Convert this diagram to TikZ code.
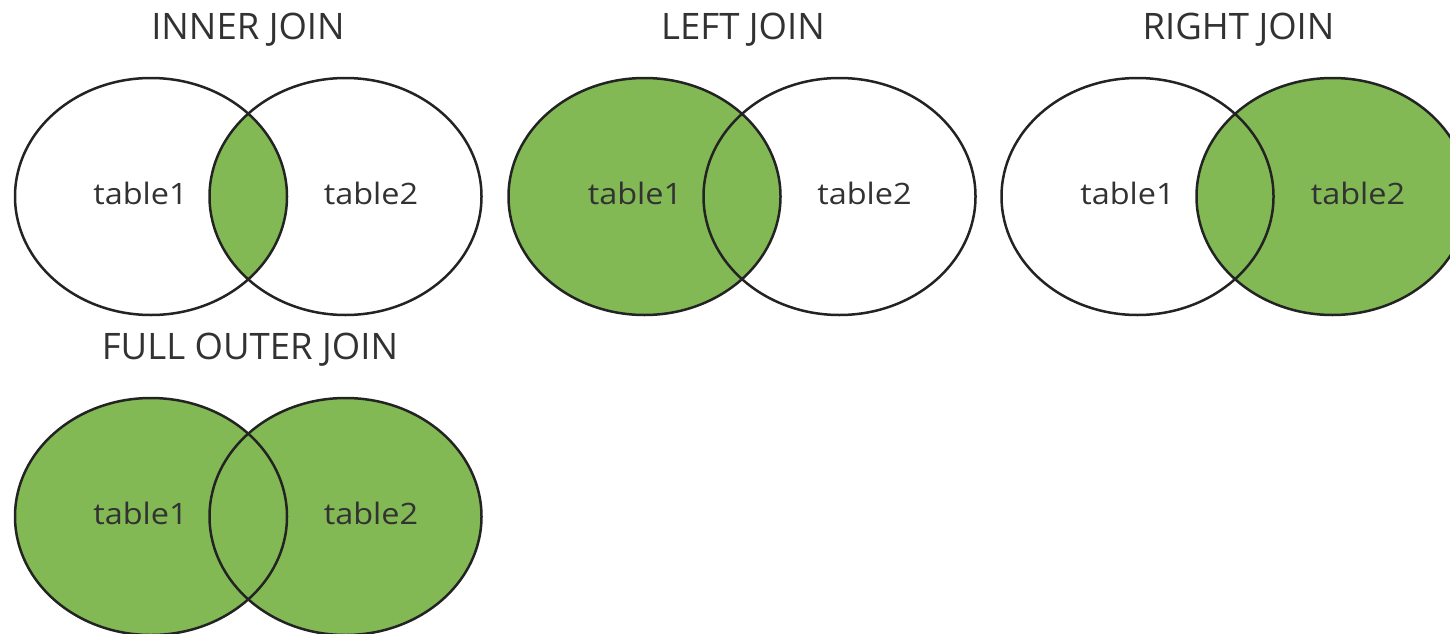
\documentclass[tikz,border=0pt]{standalone}
\usepackage{fontspec}
\setmainfont{Open Sans}
\definecolor{joingreen}{RGB}{130,185,85}
\definecolor{edgecol}{RGB}{35,35,35}
\definecolor{txtcol}{RGB}{50,50,50}
\begin{document}
\begin{tikzpicture}[x=1pt,y=-1pt,
  outline/.style={draw=edgecol,line width=2.5pt},
  shade/.style={fill=joingreen},
  title/.style={font=\fontsize{36.5}{36.5}\selectfont,text=txtcol,anchor=base,inner sep=0pt},
  lab/.style={font=\fontsize{29.5}{29.5}\selectfont,text=txtcol,anchor=base,inner sep=0pt,xscale=1.1},
  er/.style={x radius=136,y radius=118.5}]
\useasboundingbox (0,0) rectangle (1450,634);
\clip (0,0) rectangle (1450,634);
% INNER JOIN
\begin{scope}
  \clip (151,196.5) ellipse [er];
  \fill[shade] (345.5,196.5) ellipse [er];
\end{scope}
\draw[outline] (151,196.5) ellipse [er];
\draw[outline] (345.5,196.5) ellipse [er];
\node[title] (tInner) at (248,40) {INNER JOIN};
\node[lab] (i1) at (140.5,204) {table1};
\node[lab] (i2) at (371,204) {table2};
% LEFT JOIN
\fill[shade] (644.5,196.5) ellipse [er];
\draw[outline] (644.5,196.5) ellipse [er];
\draw[outline] (839.5,196.5) ellipse [er];
\node[title] (tLeft) at (743,40) {LEFT JOIN};
\node[lab] (l1) at (635,204) {table1};
\node[lab] (l2) at (864.5,204) {table2};
% RIGHT JOIN
\fill[shade] (1332.5,196.5) ellipse [er];
\draw[outline] (1137.5,196.5) ellipse [er];
\draw[outline] (1332.5,196.5) ellipse [er];
\node[title] (tRight) at (1238.5,40) {RIGHT JOIN};
\node[lab] (r1) at (1127.5,204) {table1};
\node[lab] (r2) at (1358,204) {table2};
% FULL OUTER JOIN
\fill[shade] (151,516.5) ellipse [er];
\fill[shade] (345.5,516.5) ellipse [er];
\draw[outline] (151,516.5) ellipse [er];
\draw[outline] (345.5,516.5) ellipse [er];
\node[title] (tFull) at (250,359) {FULL OUTER JOIN};
\node[lab] (f1) at (140.5,524) {table1};
\node[lab] (f2) at (371,524) {table2};
\end{tikzpicture}
\end{document}
